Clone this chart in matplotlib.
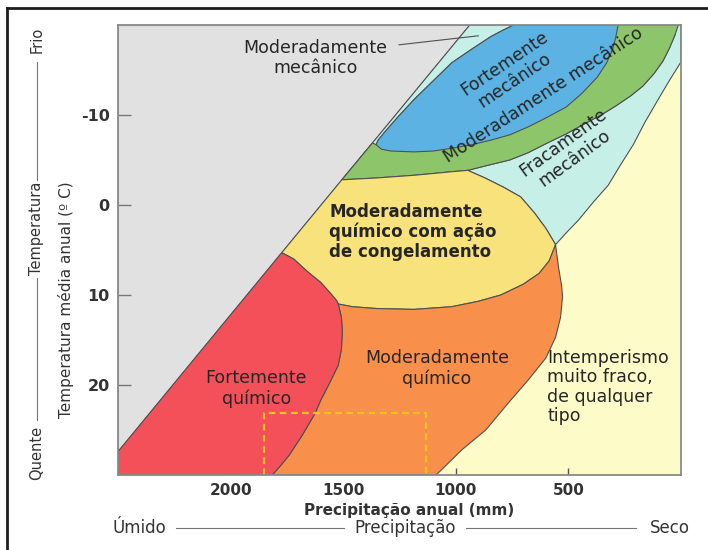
import matplotlib
matplotlib.use("Agg")
import matplotlib.pyplot as plt
from matplotlib.patches import Polygon
from matplotlib.lines import Line2D

plt.rcParams['font.family'] = ['DejaVu Sans']

# ---------------- data (precipitation mm, temperature C) ----------------
x_ticks = [2000, 1500, 1000, 500]
y_ticks = [-10, 0, 10, 20]

# straight boundary of the gray zone
diag = [(938, -20), (1370, -6.9), (1506, -2.8), (1773, 5.3), (2500, 27.4)]

blue_upper = [(743, -20), (800, -19.3), (845, -18.7), (930, -17.3), (1018, -15.8),
              (1100, -13.8), (1186, -11.7), (1260, -9.7), (1319, -8.0),
              (1345, -7.2), (1354, -6.7)]
blue_lower = [(1354, -6.7), (1330, -6.2), (1288, -6.0), (1186, -5.9), (1100, -6.0),
              (1018, -6.3), (930, -6.7), (845, -7.2), (760, -7.8), (677, -8.7),
              (590, -9.8), (509, -10.9), (440, -12.4), (372, -14.2), (330, -15.8),
              (305, -17.2), (290, -18.6), (279, -20)]
green_outer = [(1506, -2.8), (1430, -2.9), (1354, -3.0), (1270, -3.15), (1186, -3.3),
               (1100, -3.5), (1018, -3.7), (947, -3.85), (860, -4.4), (761, -5.0),
               (680, -5.8), (593, -6.9), (510, -7.9), (430, -9.0), (355, -10.0),
               (290, -11.0), (225, -12.1), (170, -13.2), (120, -14.6), (80, -16.0),
               (50, -17.5), (25, -19), (12, -20)]
cyan_pale = [(0, -15.9), (50, -13.9), (102, -11.7), (160, -9.2), (212, -6.7),
             (270, -4.4), (323, -2.2), (390, -0.3), (456, 1.7), (510, 3.1), (557, 4.4)]
yellow_cyan = [(557, 4.4), (600, 2.6), (650, 0.9), (712, -0.9), (790, -2.0),
               (870, -3.0), (947, -3.85)]
red_yellow = [(1773, 5.3), (1720, 6.0), (1659, 7.4), (1600, 8.6), (1557, 9.8),
              (1530, 10.6), (1522, 11.0)]
yellow_orange = [(1522, 11.0), (1460, 11.3), (1354, 11.5), (1186, 11.6), (1018, 11.3),
                 (900, 10.7), (800, 10.0), (700, 8.8), (630, 7.6), (585, 6.2), (557, 4.4)]
red_orange = [(1522, 11.0), (1508, 12.5), (1504, 14.0), (1508, 16.0), (1522, 17.8),
              (1557, 19.6), (1600, 21.7), (1624, 23.1), (1680, 25.5), (1740, 27.8),
              (1783, 29.1), (1815, 30)]
orange_pale = [(557, 4.4), (544, 6.9), (530, 9.0), (526, 10.2), (535, 12.5),
               (557, 14.7), (600, 17.0), (677, 19.4), (760, 21.8), (867, 25.0),
               (973, 27.2), (1075, 29.7), (1088, 30)]

dash_box_P = [1850, 1133]
dash_box_T = [23.1, 30]
pointer = [(1252, -17.8), (900, -18.8)]

colors = {
    'gray': '#e1e1e1', 'pale': '#fdfcc9', 'cyan': '#c6efe8', 'blue': '#5cb2e3',
    'green': '#8cc56a', 'yellow': '#f8e27c', 'orange': '#f88f4a', 'red': '#f4505a',
}

# ---------------- figure ----------------
fig = plt.figure(figsize=(7.08, 5.5), dpi=100)
ax = fig.add_axes([118 / 708, 1 - 475 / 550, (681 - 118) / 708, (475 - 25) / 550])
ax.set_facecolor(colors['pale'])
ax.set_xlim(2500, 0)
ax.set_ylim(30, -20)

edge = '#505050'


def poly(pts, color, lw=0.8, z=1):
    p = Polygon(pts, closed=True, facecolor=color, edgecolor=edge, lw=lw, zorder=z)
    ax.add_patch(p)


rev = lambda l: list(reversed(l))

gray_pts = [(2500, -20)] + diag + [(2500, -20)]
poly(gray_pts, colors['gray'], lw=0.6, z=1)

cyan_pts = [(938, -20), (0, -20)] + cyan_pale + yellow_cyan[1:] + rev(green_outer)[1:] \
    + [(1370, -6.9), (938, -20)]
poly(cyan_pts, colors['cyan'], z=2)

green_pts = green_outer + [(743, -20)] + blue_upper[1:] + [(1370, -6.9)]
poly(green_pts, colors['green'], z=3)

blue_pts = blue_upper + blue_lower[1:]
poly(blue_pts, colors['blue'], z=4)

yellow_pts = [(1506, -2.8), (1773, 5.3)] + red_yellow[1:] + yellow_orange[1:] \
    + yellow_cyan[1:] + rev(green_outer)[16:]
poly(yellow_pts, colors['yellow'], z=3)

orange_pts = yellow_orange + orange_pale[1:] + [(1815, 30)] + rev(red_orange)[1:]
poly(orange_pts, colors['orange'], z=3)

red_pts = [(1773, 5.3), (2500, 27.4), (2500, 30), (1815, 30)] + rev(red_orange)[1:] \
    + rev(red_yellow)[1:]
poly(red_pts, colors['red'], z=3)

# dashed box
ax.plot([dash_box_P[0], dash_box_P[0], dash_box_P[1], dash_box_P[1]],
        [dash_box_T[1], dash_box_T[0], dash_box_T[0], dash_box_T[1]],
        color='#f6c51e', lw=1.6, ls=(0, (3, 2)), zorder=6)

# pointer line
ax.plot([p[0] for p in pointer], [p[1] for p in pointer], color='#505050', lw=0.8, zorder=6)

# ---------------- labels in regions ----------------
tc = '#262626'
fs = 12.5
ax.text(1624, -16.3, 'Moderadamente\nmecânico', ha='center', va='center', fontsize=fs,
        color=tc, zorder=7, linespacing=1.15)
ax.text(761, -14.8, 'Fortemente\nmecânico', ha='center', va='center', fontsize=fs,
        color=tc, rotation=34, rotation_mode='anchor', zorder=7, linespacing=1.1)
ax.text(610, -12.2, 'Moderadamente mecânico', ha='center', va='center', fontsize=fs,
        color=tc, rotation=33, rotation_mode='anchor', zorder=7)
ax.text(500, -6.1, 'Fracamente\nmecânico', ha='center', va='center', fontsize=fs,
        color=tc, rotation=36, rotation_mode='anchor', zorder=7, linespacing=1.1)
ax.text(1190, 3.0, 'Moderadamente\nquímico com ação\nde congelamento', ha='center',
        va='center', fontsize=12, fontweight='bold', color=tc, zorder=7,
        multialignment='left', linespacing=1.1)
ax.text(1885, 20.4, 'Fortemente\nquímico', ha='center', va='center', fontsize=fs,
        color=tc, zorder=7, linespacing=1.15)
ax.text(1084, 18.2, 'Moderadamente\nquímico', ha='center', va='center', fontsize=fs,
        color=tc, zorder=7, linespacing=1.15)
ax.text(593, 20.2, 'Intemperismo\nmuito fraco,\nde qualquer\ntipo', ha='left',
        va='center', fontsize=fs, color=tc, zorder=7, linespacing=1.1)

# ---------------- axes styling ----------------
ax.set_xticks(x_ticks)
ax.set_xticklabels([str(v) for v in x_ticks], fontsize=11, fontweight='bold', color='#333333')
ax.set_yticks(y_ticks)
ax.set_yticklabels([str(v) for v in y_ticks], fontsize=11.5, fontweight='bold', color='#333333')
ax.tick_params(axis='y', direction='in', length=9, width=1, color='#777777', pad=6)
ax.tick_params(axis='x', direction='in', length=5, width=1, color='#555555', pad=6)
for s in ax.spines.values():
    s.set_color('#8a8a8a')
    s.set_linewidth(1.3)
    s.set_zorder(8)

# axis titles
fig.text(409 / 708, 1 - 510 / 550, 'Precipitação anual (mm)', ha='center', va='center',
         fontsize=11, fontweight='bold', color='#333333')
yb = 1 - 528 / 550
fig.text(112 / 708, yb, 'Úmido', ha='left', va='center', fontsize=12, color='#333333')
fig.text(405 / 708, yb, 'Precipitação', ha='center', va='center', fontsize=12, color='#333333')
fig.text(690 / 708, yb, 'Seco', ha='right', va='center', fontsize=12, color='#333333')
fig.add_artist(Line2D([176 / 708, 344 / 708], [yb, yb], color='#777777', lw=0.8))
fig.add_artist(Line2D([466 / 708, 636 / 708], [yb, yb], color='#777777', lw=0.8))

fig.text(66 / 708, 1 - 300 / 550, 'Temperatura média anual (º C)', ha='center', va='center',
         rotation=90, fontsize=11, color='#333333')
xl = 37 / 708
fig.text(xl, 1 - 40 / 550, 'Frio', ha='center', va='center', rotation=90, fontsize=10.5,
         color='#333333')
fig.text(xl, 1 - 228 / 550, 'Temperatura', ha='center', va='center', rotation=90,
         fontsize=10.5, color='#333333')
fig.text(xl, 1 - 453 / 550, 'Quente', ha='center', va='center', rotation=90, fontsize=10.5,
         color='#333333')
fig.add_artist(Line2D([xl, xl], [1 - 62 / 550, 1 - 180 / 550], color='#777777', lw=0.8))
fig.add_artist(Line2D([xl, xl], [1 - 278 / 550, 1 - 420 / 550], color='#777777', lw=0.8))

# outer frame (top and left)
fig.add_artist(Line2D([7 / 708, 1], [1 - 8 / 550, 1 - 8 / 550], color='#1e1e1e', lw=2))
fig.add_artist(Line2D([7 / 708, 7 / 708], [0, 1 - 8 / 550], color='#1e1e1e', lw=2))

fig.savefig('out.png', dpi=100)
